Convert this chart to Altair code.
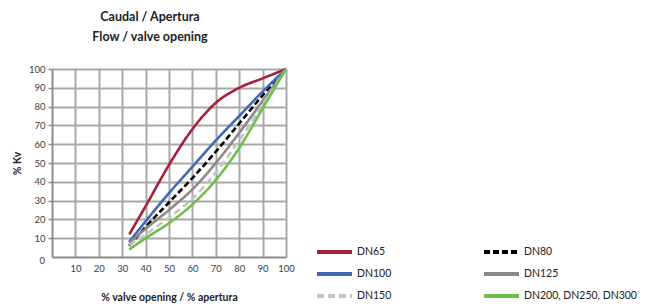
import altair as alt
import pandas as pd

opening = [33, 40, 50, 60, 70, 80, 90, 100]
series_names = ["DN65", "DN80", "DN100", "DN125", "DN150", "DN200, DN250, DN300"]
dn65 = [12, 27, 49, 68, 82, 90, 95, 100]
dn80 = [6, 16, 29, 42, 56, 71, 86, 100]
dn100 = [8, 19, 34, 48, 62, 75, 88, 100]
dn125 = [7.5, 15, 25, 36, 50, 66, 83, 100]
dn150 = [6.5, 12, 21, 31, 45, 62, 81, 100]
dn200 = [4, 10, 18, 28, 41, 58, 79, 100]
colors = ["#a6203c", "#000000", "#4169b4", "#8a8a8a", "#c4c4c4", "#6cc04a"]
dashes = [[1, 0], [6, 3], [1, 0], [1, 0], [7, 4], [1, 0]]
legend_col = [0, 1, 0, 1, 0, 1]
legend_row = [0, 0, 1, 1, 2, 2]
x_ticks = [10, 20, 30, 40, 50, 60, 70, 80, 90, 100]
y_ticks = [10, 20, 30, 40, 50, 60, 70, 80, 90, 100]

rows = []
for name, vals in zip(series_names, [dn65, dn80, dn100, dn125, dn150, dn200]):
    for x, y in zip(opening, vals):
        rows.append({"series": name, "x": x, "y": y})
df = pd.DataFrame(rows)
leg_df = pd.DataFrame({"series": series_names, "lc": legend_col, "lr": legend_row})

FONT = "Lato"
xs = alt.Scale(domain=[0, 100], nice=False, zero=True)
ys = alt.Scale(domain=[0, 100], nice=False, zero=True)
color_scale = alt.Scale(domain=series_names, range=colors)
dash_scale = alt.Scale(domain=series_names, range=dashes)

x_axis = alt.Axis(
    values=x_ticks, title="% valve opening / % apertura", ticks=False,
    labelPadding=6, titlePadding=20, labelFontSize=9.5, labelColor="#404040",
    titleFontSize=10.5, titleFontWeight="bold", titleColor="#222",
    labelFont=FONT, titleFont=FONT, domainColor="#8c8c8c", domainWidth=2,
    gridColor="#a8a8a8", gridWidth=2, gridOpacity=1, labelOverlap=False,
    labelFlush=False)
y_axis = alt.Axis(
    values=y_ticks, title="% Kv", tickSize=4, tickColor="#8c8c8c", tickWidth=1.5,
    labelPadding=3, titlePadding=6, labelFontSize=9.5, labelColor="#404040",
    titleFontSize=10.5, titleFontWeight="bold", titleColor="#222",
    labelFont=FONT, titleFont=FONT, domainColor="#8c8c8c", domainWidth=2,
    gridColor="#a8a8a8", gridWidth=2, gridOpacity=1, labelOverlap=False,
    labelFlush=False)

lines = alt.Chart(df).mark_line(strokeWidth=2.6, interpolate="monotone").encode(
    x=alt.X("x:Q", scale=xs, axis=x_axis),
    y=alt.Y("y:Q", scale=ys, axis=y_axis),
    color=alt.Color("series:N", scale=color_scale, legend=None),
    strokeDash=alt.StrokeDash("series:N", scale=dash_scale, legend=None),
)

zero_label = alt.Chart(pd.DataFrame({"v": [0]})).mark_text(
    align="right", dx=-7, dy=4, fontSize=9.5, font=FONT, color="#404040"
).encode(x=alt.value(0), y=alt.Y("v:Q", scale=ys, axis=y_axis), text=alt.Text("v:Q"))

main = alt.layer(lines, zero_label)

lx = alt.Scale(domain=[0, 1], range=[265, 432])
ly = alt.Scale(domain=[0, 2], range=[183, 227])

leg_sym = alt.Chart(leg_df).mark_rule(strokeWidth=4, x2Offset=35).encode(
    x=alt.X("lc:Q", scale=lx, axis=None),
    x2="lc:Q",
    y=alt.Y("lr:Q", scale=ly, axis=None),
    color=alt.Color("series:N", scale=color_scale, legend=None),
    strokeDash=alt.StrokeDash("series:N", scale=dash_scale, legend=None),
)
leg_txt = alt.Chart(leg_df).mark_text(
    align="left", baseline="middle", dx=40, fontSize=10.5, font=FONT, color="#222"
).encode(
    x=alt.X("lc:Q", scale=lx, axis=None),
    y=alt.Y("lr:Q", scale=ly, axis=None),
    text="series:N",
)
legend = alt.layer(leg_sym, leg_txt)

chart = alt.layer(main, legend).resolve_scale(x="independent", y="independent").properties(
    width=234, height=188,
    padding={"left": 44, "top": 61, "right": 355, "bottom": 50},
    autosize=alt.AutoSizeParams(type="none"),
    title=alt.Title(["Caudal / Apertura", "Flow / valve opening"], anchor="middle",
                    dx=-19, offset=20, fontSize=12.5, font=FONT, fontWeight="bold",
                    color="#222", lineHeight=20),
).configure_view(stroke=None).configure_axis(labelOverlap=False)

chart.save("out.html", embed_options={"renderer": "svg", "actions": False})
